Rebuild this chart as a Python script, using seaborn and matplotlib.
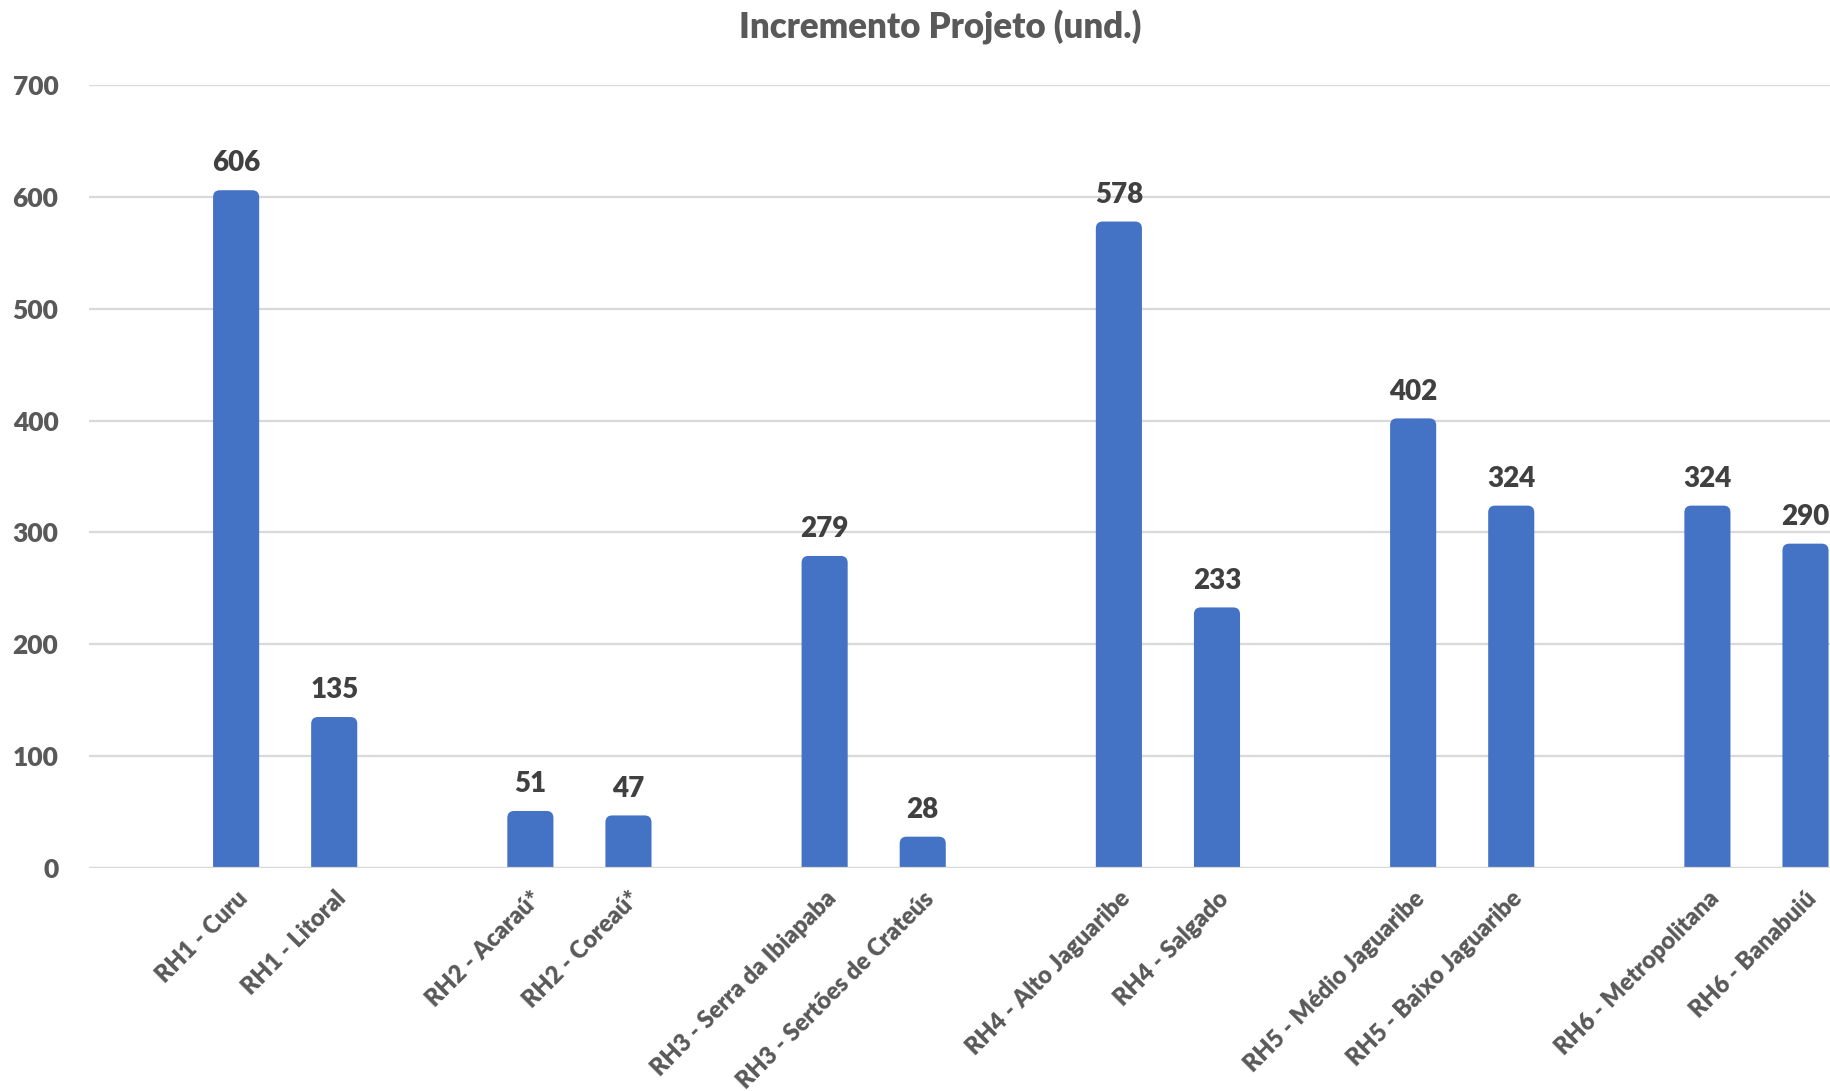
import matplotlib
matplotlib.use("Agg")
import matplotlib.pyplot as plt
from matplotlib.patches import FancyBboxPatch
import seaborn as sns
import pandas as pd

categories = ["RH1 - Curu", "RH1 - Litoral", "RH2 - Acaraú*", "RH2 - Coreaú*",
              "RH3 - Serra da Ibiapaba", "RH3 - Sertões de Crateús",
              "RH4 - Alto Jaguaribe", "RH4 - Salgado",
              "RH5 - Médio Jaguaribe", "RH5 - Baixo Jaguaribe",
              "RH6 - Metropolitana", "RH6 - Banabuiú"]
values = [606, 135, 51, 47, 279, 28, 578, 233, 402, 324, 324, 290]
title = "Incremento Projeto (und.)"
yticks = [0, 100, 200, 300, 400, 500, 600, 700]

sns.set_theme(style="white")
plt.rcParams['font.family'] = ['Lato', 'DejaVu Sans']

BAR = "#4472C4"
W = "heavy"

df = pd.DataFrame({"cat": categories, "val": values})
# order with empty slots between pairs
order = []
for i, c in enumerate(categories):
    order.append(c)
    if i % 2 == 1 and i < len(categories) - 1:
        order.append(f"_gap{i}")

fig = plt.figure(figsize=(18.31, 10.91), dpi=100)
ax = fig.add_axes([0.0486, 0.2044, 0.9514, 0.7176])

sns.barplot(data=df, x="cat", y="val", order=order, color=BAR,
            saturation=1, width=0.47, ax=ax, zorder=3)

ax.set_ylim(0, 700)
ax.set_xlim(-1.5, 16.26)

# rounded bar tops (replace rectangles with rounded boxes of the same extent)
for p in list(ax.patches):
    x, y, w, h = p.get_x(), p.get_y(), p.get_width(), p.get_height()
    p.set_visible(False)
    fb = FancyBboxPatch((x, y - 20), w, h + 20,
                        boxstyle="round,pad=0,rounding_size=0.07",
                        mutation_aspect=88, facecolor=BAR, edgecolor="none",
                        zorder=3, clip_on=True)
    ax.add_patch(fb)

ax.set_yticks(yticks)
ax.yaxis.grid(True, color="#D9D9D9", linewidth=1.6, zorder=0)
ax.set_axisbelow(True)
ax.axhline(0, color="#D9D9D9", linewidth=1.6, zorder=4)
for s in ax.spines.values():
    s.set_visible(False)
ax.set_xlabel("")
ax.set_ylabel("")

pos = [order.index(c) for c in categories]
ax.set_xticks(pos)
ax.set_xticklabels(categories, rotation=45, ha="right", va="top",
                   rotation_mode="anchor", fontsize=17, fontweight=W,
                   color="#595959")
ax.tick_params(axis="x", length=0, pad=14)
ax.tick_params(axis="y", length=0, pad=22)
for lab in ax.get_yticklabels():
    lab.set_fontsize(19)
    lab.set_fontweight(W)
    lab.set_color("#595959")

for p, v in zip(pos, values):
    ax.annotate(str(v), (p, v), xytext=(0, 10), textcoords="offset points",
                ha="center", va="bottom", fontsize=20, fontweight=W,
                color="#404040", zorder=5)

fig.text(0.5135, 0.9745, title, ha="center", va="center", fontsize=25,
         fontweight=W, color="#595959")

fig.savefig("out.png", dpi=100)
